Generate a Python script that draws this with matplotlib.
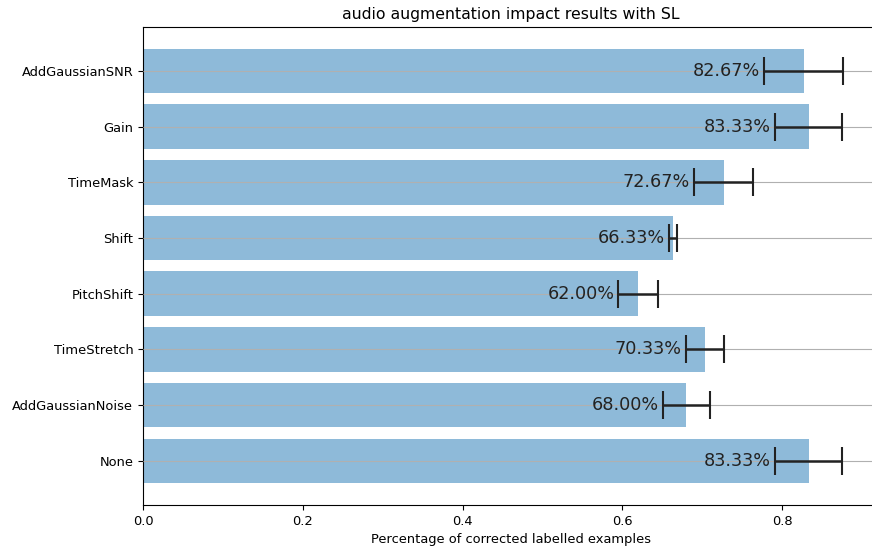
import numpy as np
import matplotlib
matplotlib.use("Agg")
import matplotlib.pyplot as plt

augmentations = ["None", "AddGaussianNoise", "TimeStretch", "PitchShift",
                 "Shift", "TimeMask", "Gain", "AddGaussianSNR"]
accuracy = [0.8333, 0.6800, 0.7033, 0.6200, 0.6633, 0.7267, 0.8333, 0.8267]
std_dev = [0.042, 0.029, 0.024, 0.025, 0.0047, 0.037, 0.042, 0.049]

fig = plt.figure(figsize=(8.72, 5.5), dpi=100)
ax = fig.add_axes([0.164, 0.082, 0.843, 0.869])

y_pos = np.arange(len(augmentations))
ax.barh(y_pos, accuracy, xerr=std_dev, align='center', alpha=0.5,
        ecolor='#222222', capsize=10,
        error_kw={'elinewidth': 1.8, 'capthick': 1.5, 'zorder': 3})
ax.set_yticks(y_pos)
ax.set_yticklabels(augmentations)
ax.yaxis.grid(True)
ax.set_axisbelow(False)
ax.set_xlim(0, 0.92)

for y, v, e in zip(y_pos, accuracy, std_dev):
    ax.annotate("{:.2f}%".format(v * 100), (v - e, y), xytext=(-3, 0),
                textcoords='offset points', ha='right', va='center',
                fontsize=12.7, color='#222222')

ax.tick_params(labelsize=9.4)
ax.set_xlabel("Percentage of corrected labelled examples", fontsize=9.4)
ax.set_title("audio augmentation impact results with SL", fontsize=11.3)

fig.savefig("out.png", dpi=100)
